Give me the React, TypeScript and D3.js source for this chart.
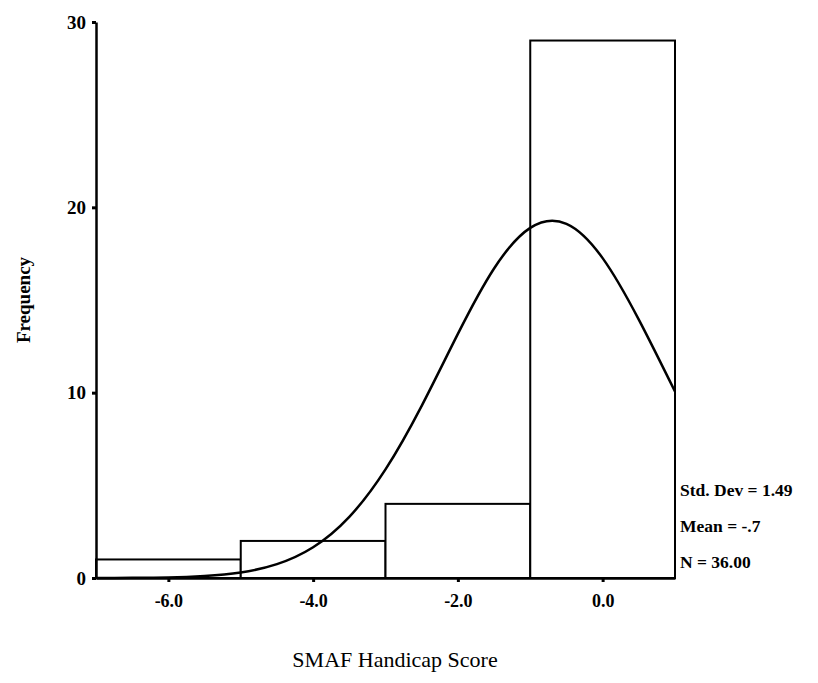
import React, { useEffect, useRef } from 'react';
import * as d3 from 'd3';

// histogram bins (lower edge, upper edge, count)
const binStarts = [-7, -5, -3, -1];
const binEnds = [-5, -3, -1, 1];
const binCounts = [1, 2, 4, 29];

// fitted normal curve
const curveX = [-7, -6.5, -6, -5.5, -5, -4.5, -4, -3.5, -3, -2.5, -2, -1.5, -1, -0.5, 0, 0.5, 1];
const curveY = [0, 0.01, 0.03, 0.11, 0.3, 0.75, 1.66, 3.3, 5.86, 9.29, 13.17, 16.7, 18.89, 19.11, 17.26, 13.94, 10.06];

const xTicks = [-6, -4, -2, 0];
const xTickLabels = ['-6.0', '-4.0', '-2.0', '0.0'];
const yTicks = [0, 10, 20, 30];

const statsLines = ['Std. Dev = 1.49', 'Mean = -.7', 'N = 36.00'];

const App: React.FC = () => {
  const svgRef = useRef<SVGSVGElement>(null);

  useEffect(() => {
    if (!svgRef.current) return;
    const svg = d3.select(svgRef.current);
    svg.selectAll('*').remove();

    const font = '"Liberation Serif", "Times New Roman", serif';

    const x = d3.scaleLinear().domain([-7, 1]).range([96, 675]);
    const y = d3.scaleLinear().domain([0, 30]).range([578, 22]);

    // Bars
    svg.append('g')
      .selectAll('rect')
      .data(binCounts)
      .join('rect')
      .attr('x', (_, i) => x(binStarts[i]))
      .attr('y', d => y(d))
      .attr('width', (_, i) => x(binEnds[i]) - x(binStarts[i]))
      .attr('height', d => y(0) - y(d))
      .attr('fill', '#fff')
      .attr('stroke', '#000')
      .attr('stroke-width', 2);

    // Normal curve
    const pts = curveX.map((v, i) => [v, curveY[i]] as [number, number]);
    const line = d3.line<[number, number]>()
      .x(d => x(d[0]))
      .y(d => y(d[1]))
      .curve(d3.curveNatural);
    svg.append('path')
      .datum(pts)
      .attr('fill', 'none')
      .attr('stroke', '#000')
      .attr('stroke-width', 2.5)
      .attr('d', line);

    // Y axis
    const yAxis = svg.append('g')
      .attr('transform', `translate(${x(-7)},0)`)
      .call(d3.axisLeft(y).tickValues(yTicks).tickSize(4).tickPadding(6).tickSizeOuter(0));
    yAxis.select('.domain').attr('stroke', '#000').attr('stroke-width', 2.5);
    yAxis.selectAll('.tick line').attr('stroke', '#000').attr('stroke-width', 3);
    yAxis.selectAll('.tick text')
      .attr('font-family', font)
      .attr('font-size', 19)
      .attr('font-weight', 'bold')
      .attr('fill', '#000');

    // X axis
    const xAxis = svg.append('g')
      .attr('transform', `translate(0,${y(0)})`)
      .call(d3.axisBottom(x).tickValues(xTicks).tickFormat((_, i) => xTickLabels[i]).tickSize(4).tickPadding(12).tickSizeOuter(0));
    xAxis.select('.domain').attr('stroke', '#000').attr('stroke-width', 2.5);
    xAxis.selectAll('.tick line').attr('stroke', '#000').attr('stroke-width', 3);
    xAxis.selectAll('.tick text')
      .attr('font-family', font)
      .attr('font-size', 18)
      .attr('font-weight', 'bold')
      .attr('fill', '#000');

    // Axis titles
    svg.append('text')
      .attr('transform', `translate(30,${(y(0) + y(30)) / 2}) rotate(-90)`)
      .attr('text-anchor', 'middle')
      .attr('font-family', font)
      .attr('font-size', 19)
      .attr('font-weight', 'bold')
      .text('Frequency');

    svg.append('text')
      .attr('x', 395)
      .attr('y', 667)
      .attr('text-anchor', 'middle')
      .attr('font-family', font)
      .attr('font-size', 22)
      .text('SMAF Handicap Score');

    // Stats
    svg.append('g')
      .selectAll('text')
      .data(statsLines)
      .join('text')
      .attr('x', 680)
      .attr('y', (_, i) => 496 + i * 36)
      .attr('font-family', font)
      .attr('font-size', 17.5)
      .attr('font-weight', 'bold')
      .text(d => d);
  }, []);

  return (
    <svg
      ref={svgRef}
      width={818}
      height={683}
      style={{ position: 'absolute', left: 0, top: 0, background: '#fff' }}
    />
  );
};

export default App;
